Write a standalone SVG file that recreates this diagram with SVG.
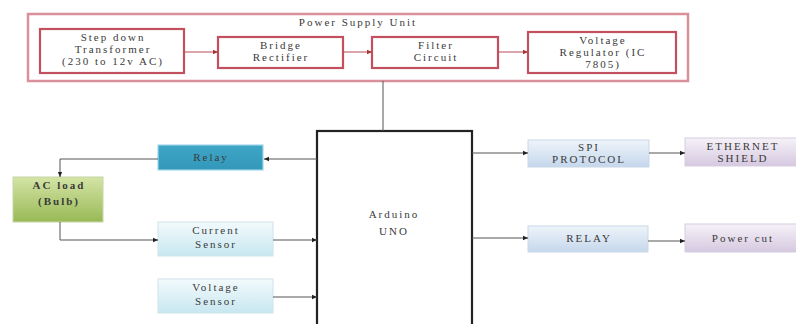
<svg xmlns="http://www.w3.org/2000/svg" width="796" height="324" viewBox="0 0 796 324">
<style>
text{font-family:"Liberation Serif","DejaVu Serif",serif;font-size:11px;letter-spacing:2px;fill:#3a3a3a;text-anchor:middle}
.psu{fill:#fff;stroke:#c2505f;stroke-width:2.2}
.outer{fill:#fff;stroke:#d9909a;stroke-width:2.5}
.ln{fill:none;stroke:#555;stroke-width:1}
.lnr{fill:none;stroke:#b54a56;stroke-width:1}
</style>
<defs>
<marker id="a" markerWidth="6" markerHeight="6" refX="5" refY="3" orient="auto" markerUnits="userSpaceOnUse"><path d="M0,0.8 L5,3 L0,5.2 Z" fill="#222"/></marker>
<marker id="ar" markerWidth="6" markerHeight="6" refX="5" refY="3" orient="auto" markerUnits="userSpaceOnUse"><path d="M0,0.8 L5,3 L0,5.2 Z" fill="#a33"/></marker>
<linearGradient id="gTeal" x1="0" y1="0" x2="0" y2="1"><stop offset="0" stop-color="#3fa6c6"/><stop offset="1" stop-color="#3398bb"/></linearGradient>
<linearGradient id="gGreen" x1="0" y1="0" x2="0" y2="1"><stop offset="0" stop-color="#d4e4a6"/><stop offset="1" stop-color="#98b955"/></linearGradient>
<linearGradient id="gCyan" x1="0" y1="0" x2="0" y2="1"><stop offset="0" stop-color="#f2fafc"/><stop offset="1" stop-color="#c8e7f0"/></linearGradient>
<linearGradient id="gBlue" x1="0" y1="0" x2="0" y2="1"><stop offset="0" stop-color="#eef4fa"/><stop offset="1" stop-color="#c5d7ec"/></linearGradient>
<linearGradient id="gPurp" x1="0" y1="0" x2="0" y2="1"><stop offset="0" stop-color="#f6f2f8"/><stop offset="1" stop-color="#d5c8e0"/></linearGradient>
</defs>
<rect width="796" height="324" fill="#fff"/>

<g id="psu">
<rect class="outer" x="28" y="14" width="660" height="67"/>
<text x="358" y="26">Power Supply Unit</text>
</g>
<g id="transformer">
<rect class="psu" x="40" y="29" width="144" height="44"/>
<text x="113" y="41">Step down</text>
<text x="113" y="53">Transformer</text>
<text x="113" y="65">(230 to 12v AC)</text>
</g>
<g id="bridge">
<rect class="psu" x="218" y="37" width="125" height="31"/>
<text x="281" y="49">Bridge</text>
<text x="281" y="61">Rectifier</text>
</g>
<g id="filter">
<rect class="psu" x="372" y="37" width="126" height="31"/>
<text x="436" y="49">Filter</text>
<text x="436" y="61">Circuit</text>
</g>
<g id="regulator">
<rect class="psu" x="528" y="32" width="148" height="41"/>
<text x="603" y="44">Voltage</text>
<text x="603" y="56">Regulator (IC</text>
<text x="603" y="68">7805)</text>
</g>

<g id="arduino">
<rect x="317" y="131" width="155" height="200" fill="#fff" stroke="#222" stroke-width="2.2"/>
<text x="394" y="218">Arduino</text>
<text x="394" y="235">UNO</text>
</g>

<g id="relay">
<rect x="158" y="145" width="105" height="25" fill="url(#gTeal)" stroke="#9fd8ea" stroke-width="1.2"/>
<text x="211" y="161">Relay</text>
</g>
<g id="acload">
<rect x="13" y="177" width="90" height="45" fill="url(#gGreen)" stroke="#c8d6a8" stroke-width="1"/>
<text x="59" y="189" font-weight="bold">AC load</text>
<text x="59" y="205" font-weight="bold">(Bulb)</text>
</g>
<g id="current">
<rect x="158" y="222" width="115" height="34" fill="url(#gCyan)" stroke="#cfe4ea" stroke-width="1"/>
<text x="216" y="234">Current</text>
<text x="216" y="248">Sensor</text>
</g>
<g id="voltage">
<rect x="158" y="279" width="115" height="34" fill="url(#gCyan)" stroke="#cfe4ea" stroke-width="1"/>
<text x="216" y="291">Voltage</text>
<text x="216" y="305">Sensor</text>
</g>
<g id="spi">
<rect x="528" y="140" width="121" height="27" fill="url(#gBlue)" stroke="#c9d8e8" stroke-width="1"/>
<text x="589" y="151">SPI</text>
<text x="589" y="163">PROTOCOL</text>
</g>
<g id="ethernet">
<rect x="685" y="138" width="115" height="28" fill="url(#gPurp)" stroke="#d6cde0" stroke-width="1"/>
<text x="743" y="150">ETHERNET</text>
<text x="743" y="162">SHIELD</text>
</g>
<g id="relay2">
<rect x="528" y="226" width="120" height="26" fill="url(#gBlue)" stroke="#c9d8e8" stroke-width="1"/>
<text x="589" y="242">RELAY</text>
</g>
<g id="powercut">
<rect x="685" y="224" width="115" height="28" fill="url(#gPurp)" stroke="#d6cde0" stroke-width="1"/>
<text x="743" y="242">Power cut</text>
</g>

<g id="connectors">
<line class="lnr" x1="184" y1="52" x2="218" y2="52" marker-end="url(#ar)"/>
<line class="lnr" x1="343" y1="52" x2="372" y2="52" marker-end="url(#ar)"/>
<line class="lnr" x1="498" y1="52" x2="528" y2="52" marker-end="url(#ar)"/>
<line class="ln" x1="383" y1="81" x2="383" y2="131" stroke="#222"/>
<line class="ln" x1="317" y1="159" x2="264" y2="159" marker-end="url(#a)"/>
<polyline class="ln" points="158,159 60,159 60,177" marker-end="url(#a)"/>
<polyline class="ln" points="60,222 60,240 158,240" marker-end="url(#a)"/>
<line class="ln" x1="273" y1="240" x2="317" y2="240" marker-end="url(#a)"/>
<line class="ln" x1="273" y1="297" x2="317" y2="297" marker-end="url(#a)"/>
<line class="ln" x1="472" y1="153" x2="528" y2="153" marker-end="url(#a)"/>
<line class="ln" x1="649" y1="153" x2="685" y2="153" marker-end="url(#a)"/>
<line class="ln" x1="472" y1="238" x2="528" y2="238" marker-end="url(#a)"/>
<line class="ln" x1="648" y1="241" x2="685" y2="241" marker-end="url(#a)"/>
</g>
</svg>
